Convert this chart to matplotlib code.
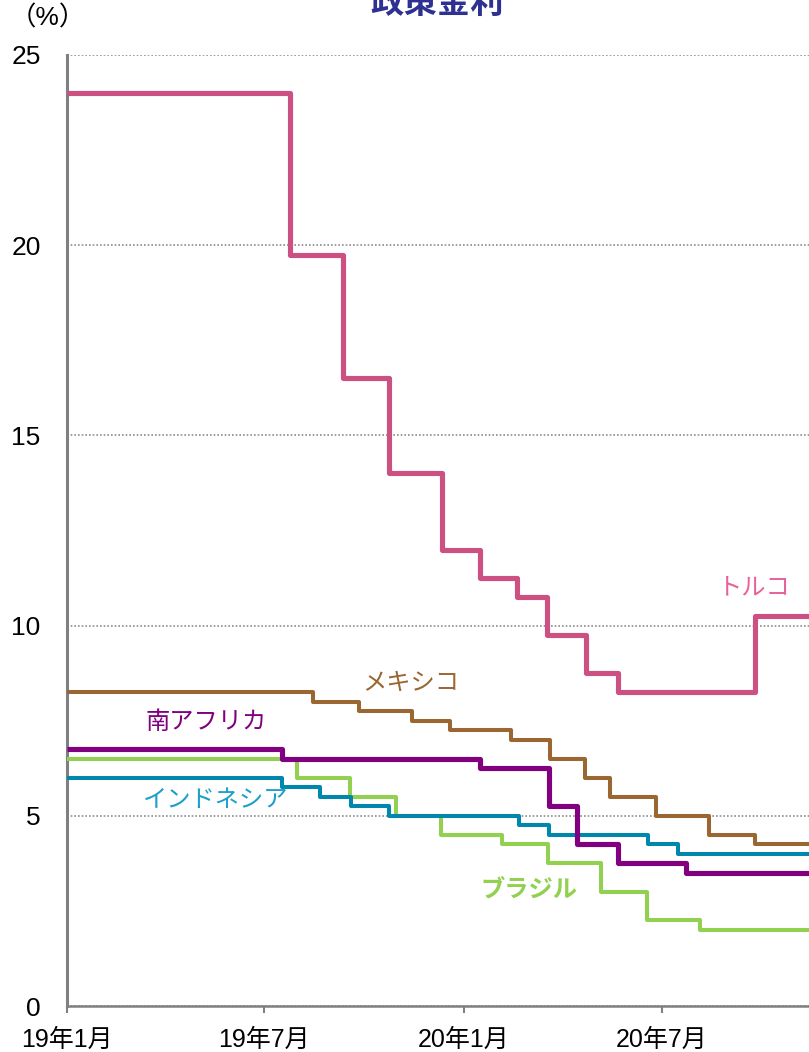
import numpy as np
import pandas as pd
import matplotlib
matplotlib.use("Agg")
import matplotlib.pyplot as plt
import matplotlib.dates as mdates

plt.rcParams['font.family'] = ['Liberation Sans', 'Noto Sans CJK JP', 'DejaVu Sans']

end_date = "2020-11-30"

# policy rate change dates and levels (steps-post)
turkey_dates = ["2019-01-01", "2019-07-25", "2019-09-12", "2019-10-24", "2019-12-12",
                "2020-01-16", "2020-02-19", "2020-03-17", "2020-04-22", "2020-05-21",
                "2020-09-24", end_date]
turkey_rate = [24.0, 19.75, 16.5, 14.0, 12.0, 11.25, 10.75, 9.75, 8.75, 8.25, 10.25, 10.25]

mexico_dates = ["2019-01-01", "2019-08-15", "2019-09-26", "2019-11-14", "2019-12-19",
                "2020-02-13", "2020-03-20", "2020-04-21", "2020-05-14", "2020-06-25",
                "2020-08-13", "2020-09-24", end_date]
mexico_rate = [8.25, 8.0, 7.75, 7.5, 7.25, 7.0, 6.5, 6.0, 5.5, 5.0, 4.5, 4.25, 4.25]

safrica_dates = ["2019-01-01", "2019-07-18", "2020-01-16", "2020-03-19", "2020-04-14",
                 "2020-05-21", "2020-07-23", end_date]
safrica_rate = [6.75, 6.5, 6.25, 5.25, 4.25, 3.75, 3.5, 3.5]

indonesia_dates = ["2019-01-01", "2019-07-18", "2019-08-22", "2019-09-19", "2019-10-24",
                   "2020-02-20", "2020-03-19", "2020-06-18", "2020-07-16", end_date]
indonesia_rate = [6.0, 5.75, 5.5, 5.25, 5.0, 4.75, 4.5, 4.25, 4.0, 4.0]

brazil_dates = ["2019-01-01", "2019-07-31", "2019-09-18", "2019-10-30", "2019-12-11",
                "2020-02-05", "2020-03-18", "2020-05-06", "2020-06-17", "2020-08-05", end_date]
brazil_rate = [6.5, 6.0, 5.5, 5.0, 4.5, 4.25, 3.75, 3.0, 2.25, 2.0, 2.0]

xtick_dates = ["2019-01-01", "2019-07-01", "2020-01-01", "2020-07-01"]
xtick_labels = ["19年1月", "19年7月", "20年1月", "20年7月"]

fig = plt.figure(figsize=(8.09, 10.52), dpi=100)
ax = fig.add_axes([67/809, 1 - 1006/1052, 1 - 67/809, (1006 - 55)/1052])

series = [
    (mexico_dates, mexico_rate, "#9A6632", 2.9),
    (brazil_dates, brazil_rate, "#92D050", 2.9),
    (indonesia_dates, indonesia_rate, "#0087AD", 2.9),
    (safrica_dates, safrica_rate, "#800080", 3.7),
    (turkey_dates, turkey_rate, "#CD5083", 3.7),
]
for d, v, c, lw in series:
    ax.plot(pd.to_datetime(d), v, drawstyle="steps-post", color=c, lw=lw,
            solid_joinstyle="round", solid_capstyle="butt", zorder=3)

ax.set_xlim(pd.Timestamp("2019-01-01"), pd.Timestamp("2020-11-13"))
ax.set_ylim(0, 25)
ax.set_yticks([0, 5, 10, 15, 20, 25])
ax.set_xticks(pd.to_datetime(xtick_dates))
ax.set_xticklabels(xtick_labels)

ax.grid(axis="y", linestyle=(0, (1, 1.2)), color="#8c8c8c", lw=1.2)
ax.set_axisbelow(True)
for s in ["top", "right"]:
    ax.spines[s].set_visible(False)
ax.spines["left"].set_color("#808080")
ax.spines["left"].set_linewidth(2.2)
ax.spines["bottom"].set_color("#808080")
ax.spines["bottom"].set_linewidth(1.8)
ax.tick_params(axis="y", length=0, pad=19, labelsize=19)
ax.tick_params(axis="x", length=5, width=1.5, color="#808080", pad=11, labelsize=18)

# series labels
ax.text(pd.Timestamp("2020-09-24"), 10.98, "トルコ", color="#E8629A", fontsize=17.5,
        ha="center", va="center")
ax.text(pd.Timestamp("2019-11-13"), 8.46, "メキシコ", color="#9A6632", fontsize=17.5,
        ha="center", va="center")
ax.text(pd.Timestamp("2019-05-09"), 7.46, "南アフリカ", color="#800080", fontsize=17.5,
        ha="center", va="center")
ax.text(pd.Timestamp("2019-05-18"), 5.4, "インドネシア", color="#1A9FCB", fontsize=17.5,
        ha="center", va="center")
ax.text(pd.Timestamp("2020-03-01"), 3.05, "ブラジル", color="#92D050", fontsize=17.5,
        ha="center", va="center", fontweight="bold")

fig.text(48/809, 1 - 18/1052, "（%）", fontsize=19, ha="center", va="center")
fig.text(437/809, 1 - 4/1052, "政策金利", fontsize=24, fontweight="bold",
         color="#2E3192", ha="center", va="center")

fig.savefig("out.png", dpi=100)
